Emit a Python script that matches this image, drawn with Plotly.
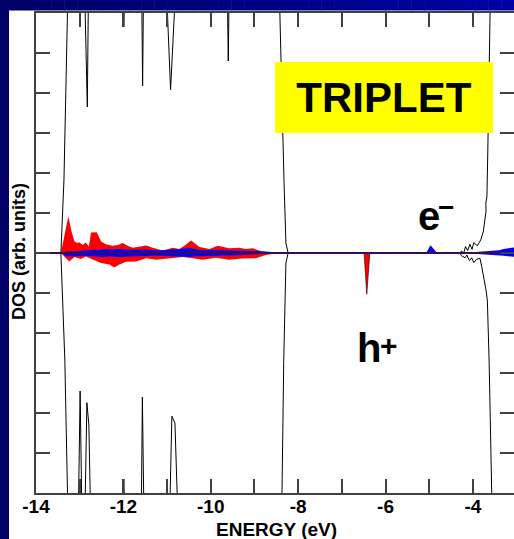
import plotly.graph_objects as go

# ---------------- data ----------------
# black total DOS, spin up (positive) -- off-scale values are clipped by the axis
E_up = [-14.0, -13.43, -13.36, -13.29, -13.27,
        -13.02, -12.99, -12.97,
        -12.885, -12.826, -12.80,
        -12.01, -11.99, -11.97,
        -11.58, -11.56, -11.54,
        -11.01, -10.92, -10.81,
        -9.62, -9.60, -9.58,
        -8.43, -8.42, -8.325, -8.28, -8.23,
        -4.30, -4.26, -4.21, -4.17, -4.12, -4.07, -4.02, -3.98, -3.90, -3.82,
        -3.76, -3.72, -3.70, -3.705, -3.68, -3.66, -3.64, -3.61, -3.60, -3.0]
D_up = [0, 0, 1.83, 6.0, 6.5,
        6.5, 5.65, 6.5,
        6.5, 3.65, 6.5,
        6.5, 5.65, 6.5,
        6.5, 4.18, 6.5,
        6.5, 4.08, 6.5,
        6.5, 4.8, 6.5,
        6.5, 6.0, 1.83, 0.25, 0,
        0, 0.05, 0, 0.16, 0.06, 0.22, 0.09, 0.26, 0.18, 0.33,
        0.55, 0.95, 1.05, 1.25, 1.4, 2.5, 4.5, 6.0, 6.5, 6.5]

# black total DOS, spin down (negative)
E_dn = [-14.0, -13.43, -13.34, -13.29, -13.27,
        -13.03, -12.99, -12.95,
        -12.88, -12.835, -12.79, -12.76, -12.75,
        -12.01, -11.99, -11.97,
        -11.59, -11.565, -11.53,
        -11.02, -11.0, -10.98,
        -10.94, -10.89, -10.82, -10.77, -10.76,
        -8.38, -8.37, -8.33, -8.28, -8.23,
        -4.30, -4.26, -4.18, -4.14, -4.08, -4.03, -3.98, -3.92, -3.84, -3.80,
        -3.75, -3.70, -3.67, -3.63, -3.57, -3.56, -3.0]
D_dn = [0, 0, -2.68, -6.0, -6.5,
        -6.5, -3.45, -6.5,
        -6.5, -3.74, -4.3, -6.0, -6.5,
        -6.5, -5.65, -6.5,
        -6.5, -3.6, -6.5,
        -6.5, -5.65, -6.5,
        -6.5, -4.08, -4.25, -6.0, -6.5,
        -6.5, -6.0, -2.68, -0.25, 0,
        0, -0.07, -0.12, -0.05, -0.19, -0.12, -0.24, -0.16, -0.13, -0.33,
        -0.59, -0.93, -1.18, -2.68, -6.0, -6.5, -6.5]

# red projected DOS (up / down)
E_red_up = [-13.43, -13.38, -13.33, -13.26, -13.19, -13.12, -13.05, -13.01, -12.93, -12.86,
            -12.79, -12.74, -12.61, -12.51, -12.40, -12.25, -12.12, -12.02, -11.90, -11.79,
            -11.62, -11.48, -11.33, -11.10, -10.87, -10.72, -10.58, -10.45, -10.26, -10.03,
            -9.84, -9.58, -9.35, -9.20, -9.04, -8.81, -8.60, -8.40, -8.25]
D_red_up = [0, 0.3, 0.6, 0.92, 0.55, 0.29, 0.25, 0.27, 0.2, 0.26,
            0.16, 0.51, 0.52, 0.29, 0.22, 0.18, 0.2, 0.25, 0.18, 0.13,
            0.16, 0.19, 0.13, 0.06, 0.13, 0.1, 0.2, 0.31, 0.15, 0.1,
            0.18, 0.12, 0.13, 0.1, 0.12, 0.03, 0.02, 0.01, 0]
E_red_dn = [-13.43, -13.35, -13.24, -13.12, -12.97, -12.86, -12.75, -12.63, -12.51, -12.32,
            -12.21, -12.09, -11.94, -11.71, -11.48, -11.25, -10.95, -10.64, -10.41, -10.19,
            -9.88, -9.58, -9.27, -8.97, -8.74, -8.55, -8.30]
D_red_dn = [0, -0.1, -0.21, -0.1, -0.15, -0.09, -0.14, -0.21, -0.25, -0.29,
            -0.36, -0.29, -0.22, -0.21, -0.13, -0.17, -0.13, -0.1, -0.13, -0.17,
            -0.12, -0.17, -0.14, -0.13, -0.05, -0.02, 0]

# blue projected DOS (up / down)
E_blue = [-13.43, -13.3, -13.1, -12.9, -12.7, -12.5, -12.3, -12.1, -11.9, -11.7,
          -11.5, -11.3, -11.1, -10.9, -10.7, -10.5, -10.3, -10.1, -9.9, -9.7,
          -9.5, -9.3, -9.1, -8.9, -8.7, -8.5, -8.3]
D_blue_up = [0, 0.04, 0.04, 0.07, 0.08, 0.09, 0.1, 0.1, 0.09, 0.08,
             0.09, 0.07, 0.07, 0.08, 0.1, 0.13, 0.08, 0.07, 0.08, 0.07,
             0.06, 0.06, 0.05, 0.05, 0.03, 0.02, 0]
D_blue_dn = [0, -0.09, -0.08, -0.07, -0.08, -0.1, -0.09, -0.1, -0.09, -0.08,
             -0.08, -0.07, -0.07, -0.08, -0.1, -0.1, -0.08, -0.07, -0.07, -0.06,
             -0.06, -0.05, -0.05, -0.04, -0.03, -0.02, 0]

# gap states
E_red_spike = [-6.49, -6.43, -6.36]
D_red_spike = [0, -1.03, 0]
E_blue_tri = [-5.06, -4.97, -4.83]
D_blue_tri = [0, 0.18, 0]
E_blue_cb = [-4.25, -4.1, -3.95, -3.85, -3.75, -3.6, -3.5, -3.4, -3.3, -3.2, -3.1, -3.0]
D_blue_cb_up = [0, 0.01, 0.02, 0.03, 0.04, 0.05, 0.06, 0.07, 0.1, 0.12, 0.14, 0.15]
D_blue_cb_dn = [0, -0.01, -0.02, -0.02, -0.03, -0.04, -0.04, -0.05, -0.07, -0.08, -0.09, -0.1]

x_ticks = [-14, -13, -12, -11, -10, -9, -8, -7, -6, -5, -4]
x_ticktext = ["-14", "", "-12", "", "-10", "", "-8", "", "-6", "", "-4"]
y_ticks = [-6, -5, -4, -3, -2, -1, 0, 1, 2, 3, 4, 5, 6]
X_RANGE = [-14, -3.06]
Y_RANGE = [-6, 6]

FONT = "Liberation Sans, Arial, sans-serif"
RED = "#ff0000"
BLUE = "#0000ff"
AX = "#404040"

fig = go.Figure()


def fill(x, y, color, line_color=None, lw=0):
    fig.add_trace(go.Scatter(x=x, y=y, mode="lines", fill="tozeroy",
                             fillcolor=color,
                             line=dict(color=line_color or color, width=lw),
                             hoverinfo="skip", showlegend=False))


fill(E_red_up, D_red_up, RED)
fill(E_red_dn, D_red_dn, RED)
fill(E_blue, D_blue_up, BLUE)
fill(E_blue, D_blue_dn, BLUE)
fill(E_red_spike, D_red_spike, RED, "#400000", 0.7)
fill(E_blue_tri, D_blue_tri, BLUE, "#000040", 0.7)
fill(E_blue_cb, D_blue_cb_up, BLUE)
fill(E_blue_cb, D_blue_cb_dn, BLUE)

fig.add_trace(go.Scatter(x=E_up, y=D_up, mode="lines",
                         line=dict(color="black", width=1),
                         hoverinfo="skip", showlegend=False))
fig.add_trace(go.Scatter(x=E_dn, y=D_dn, mode="lines",
                         line=dict(color="black", width=1),
                         hoverinfo="skip", showlegend=False))
# zero line (on the right-hand overlay axis so the right ticks are drawn)
fig.add_trace(go.Scatter(x=X_RANGE, y=[0, 0], mode="lines", yaxis="y2",
                         line=dict(color="#3b0a55", width=1.8),
                         hoverinfo="skip", showlegend=False))

# background frame (navy strip on the left, gradient band on top)
W, H = 514, 539
ML, MR, MT, MB = 36, 0, 13, 46
pw, ph = W - ML - MR, H - MT - MB


def px2paper_x(px):
    return (px - ML) / pw


def px2paper_y(py):
    return (H - MB - py) / ph


shapes = []
n = 40
for i in range(n):
    t = i / (n - 1)
    r, g, b = 0, 0, int(0x66 + (0xa4 - 0x66) * t)
    shapes.append(dict(type="rect", xref="paper", yref="paper",
                       x0=px2paper_x(W * i / n), x1=px2paper_x(W * (i + 1) / n + 0.5),
                       y0=px2paper_y(10.5), y1=px2paper_y(0),
                       fillcolor=f"rgb({r},{g},{b})", line=dict(width=0)))
shapes.append(dict(type="rect", xref="paper", yref="paper",
                   x0=px2paper_x(0), x1=px2paper_x(9),
                   y0=px2paper_y(H), y1=px2paper_y(0),
                   fillcolor="#000066", line=dict(width=0)))


def label(text, x, y, size, xanchor="center", angle=0):
    return dict(text=text, xref="paper", yref="paper", textangle=angle,
                x=px2paper_x(x), y=px2paper_y(y), xanchor=xanchor, yanchor="middle",
                showarrow=False,
                font=dict(family=FONT, size=size, color="black", weight="bold"))


triplet = label("TRIPLET", 384, 97.5, 42)
triplet.update(bgcolor="#ffff00", width=218, height=71, borderpad=0, borderwidth=0)

annotations = [
    triplet,
    label("e", 416, 216, 40, xanchor="left"),
    label("\u2212", 445.5, 207, 28),
    label("h", 355, 347.5, 40, xanchor="left"),
    label("+", 389, 345, 30),
    label("ENERGY (eV)", 276, 529, 19),
    label("DOS (arb. units)", 19, 252, 18, angle=-90),
]

fig.update_layout(
    width=W, height=H,
    margin=dict(l=ML, r=MR, t=MT, b=MB, pad=0),
    paper_bgcolor="white", plot_bgcolor="white",
    showlegend=False,
    shapes=shapes,
    annotations=annotations,
    xaxis=dict(range=X_RANGE, tickvals=x_ticks, ticktext=x_ticktext,
               ticks="inside", ticklen=14, tickwidth=1.5, tickcolor=AX,
               showline=True, linecolor=AX, linewidth=1.5, mirror="ticks",
               showgrid=False, zeroline=False, ticklabelstandoff=-5,
               tickfont=dict(family=FONT, size=19, color="black", weight="bold")),
    yaxis=dict(range=Y_RANGE, tickvals=y_ticks, showticklabels=False,
               ticks="inside", ticklen=14, tickwidth=1.5, tickcolor=AX,
               showline=True, linecolor=AX, linewidth=1.5, mirror=False,
               showgrid=False, zeroline=False),
    yaxis2=dict(range=Y_RANGE, tickvals=y_ticks, showticklabels=False,
                overlaying="y", side="right", anchor="x",
                ticks="inside", ticklen=14, tickwidth=1.5, tickcolor=AX,
                showline=False, showgrid=False, zeroline=False),
)

fig.write_html("out.html")
